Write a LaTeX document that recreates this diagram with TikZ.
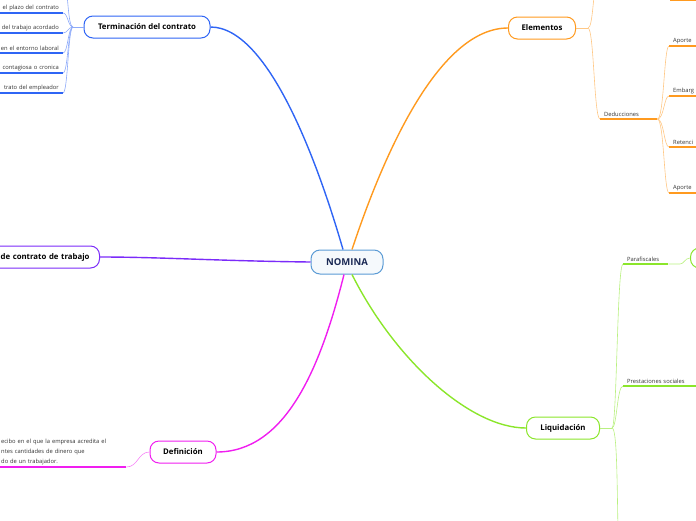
\documentclass[tikz,border=0pt]{standalone}
\usepackage{fontspec}
\setmainfont{Open Sans}

\definecolor{nomborder}{HTML}{5B9BD5}
\definecolor{nomtext}{HTML}{1B2A55}
\definecolor{tblue}{HTML}{2F65F5}
\definecolor{eorange}{HTML}{FF9A1F}
\definecolor{tpurple}{HTML}{7B2BF9}
\definecolor{dmag}{HTML}{F01EF0}
\definecolor{lgreen}{HTML}{8BE62B}

\begin{document}
\begin{tikzpicture}[
  x=1pt, y=-1pt,
  topic/.style={rectangle, rounded corners=9pt, draw, line width=1pt, fill=white,
    minimum height=22pt, inner xsep=10pt, font=\fontsize{7.8}{9}\selectfont\bfseries},
  leaf/.style={font=\fontsize{5.8}{10}\selectfont, text=black!80, inner xsep=4pt, inner ysep=2pt},
  branch/.style={line width=1.4pt},
  twig/.style={line width=0.6pt},
  uline/.style={line width=1.3pt}
]
\useasboundingbox (0,0) rectangle (696,520);

% Nodes
\node[topic, draw=nomborder, fill=nomborder!6, text=nomtext, minimum width=72pt, minimum height=24pt,
  font=\fontsize{9.5}{11}\selectfont\bfseries] (nom) at (347,262) {NOMINA};
\node[topic, draw=tblue, minimum width=126pt] (term) at (147,27) {Terminación del contrato};
\node[topic, draw=eorange, minimum width=67pt] (elem) at (542,28) {Elementos};
\node[topic, draw=tpurple, text width=120pt, align=right, anchor=east] (tipo) at (100,257) {de contrato de trabajo};
\node[topic, draw=dmag, minimum width=66pt] (defi) at (183,452) {Definición};
\node[topic, draw=lgreen, minimum width=73pt] (liq) at (563,428) {Liquidación};

% Main branches
\draw[branch, tblue] (nom.north) ++(-4,0) coordinate (n1) .. controls (320,170) and (270,27) .. (term.east);
\draw[branch, eorange] (nom.north) ++(5,0) coordinate (n2) .. controls (385,150) and (440,28) .. (elem.west);
\draw[branch, tpurple] (nom.west) .. controls (220,261) and (160,257) .. (tipo.east);
\draw[branch, dmag] (nom.south) ++(-3,0) coordinate (n3) .. controls (320,370) and (285,452) .. (defi.east);
\draw[branch, lgreen] (nom.south) ++(5,0) coordinate (n4) .. controls (395,360) and (470,428) .. (liq.west);

% Terminacion del contrato
\coordinate (tj) at (73,27);
\coordinate (t0) at (66,-8);
\draw[twig, tblue!55] (term.west) -- (tj);
\draw[twig, tblue!55] (tj) .. controls (68,27) and (68,-8) .. (t0);
\foreach \i/\y/\txt in {1/13/el plazo del contrato, 2/33/del trabajo acordado,
  3/53/en el entorno laboral, 4/73/contagiosa o cronica, 5/93/trato del empleador} {
  \node[leaf, anchor=south east, text width=90pt, align=right] (t\i) at (63,\y) {\txt};
  \draw[uline, tblue] (t\i.south west) -- (t\i.south east);
  \draw[twig, tblue!55] (tj) .. controls (68,27) and (68,\y) .. (t\i.south east);
}

% Elementos
\coordinate (ej) at (588,28);
\coordinate (e0) at (596,-10);
\draw[twig, eorange!55] (elem.east) -- (ej);
\draw[twig, eorange!55] (ej) .. controls (593,28) and (593,-10) .. (e0);
\node[leaf, anchor=south west, text width=40pt] (e00) at (670,0.8) {};
\draw[uline, eorange] (e00.south west) -- (e00.south east);
\node[leaf, anchor=south west, text width=49pt] (ded) at (600,119) {Deducciones};
\draw[uline, eorange] (ded.south west) -- (ded.south east);
\draw[twig, eorange!55] (ej) .. controls (594,28) and (594,119) .. (ded.south west);
\foreach \i/\y/\txt in {1/46/Aporte, 2/96/Embarg, 3/147/Retenci, 4/193/Aporte} {
  \node[leaf, anchor=south west, text width=40pt] (d\i) at (669,\y) {\txt};
  \draw[uline, eorange] (d\i.south west) -- (d\i.south east);
  \draw[twig, eorange!55] (ded.south east) .. controls (664,119) and (664,\y) .. (d\i.south west);
}

% Definicion
\node[leaf, anchor=south west, text width=121pt, align=left] (dtxt) at (-3,467)
  {ecibo en el que la empresa acredita el\\ntes cantidades de dinero que\\do de un trabajador.};
\draw[uline, dmag] (dtxt.south west) -- (dtxt.south east);
\draw[twig, dmag!55] (dtxt.south east) .. controls (138,467) and (138,452) .. (defi.west);

% Liquidacion
\coordinate (lj) at (612,428);
\coordinate (l3) at (618,530);
\draw[twig, lgreen!60] (liq.east) -- (lj);
\node[leaf, anchor=south west, text width=37pt] (p1) at (623,264) {Parafiscales};
\node[leaf, anchor=south west, text width=80pt] (p2) at (623,386) {Prestaciones sociales};
\node[topic, draw=lgreen, minimum width=40pt, minimum height=20pt, anchor=west] (pn) at (690,258) {};
\draw[uline, lgreen] (p1.south west) -- (p1.south east);
\draw[uline, lgreen] (p2.south west) -- (p2.south east);
\draw[twig, lgreen!60] (p1.south east) -- (680,264) .. controls (684,264) and (685,258) .. (pn.west);
\draw[twig, lgreen!60] (lj) .. controls (617,428) and (617,264) .. (p1.south west);
\draw[twig, lgreen!60] (lj) .. controls (617,428) and (617,386) .. (p2.south west);
\draw[twig, lgreen!60] (lj) .. controls (617,428) and (617,480) .. (l3);

\end{tikzpicture}
\end{document}
